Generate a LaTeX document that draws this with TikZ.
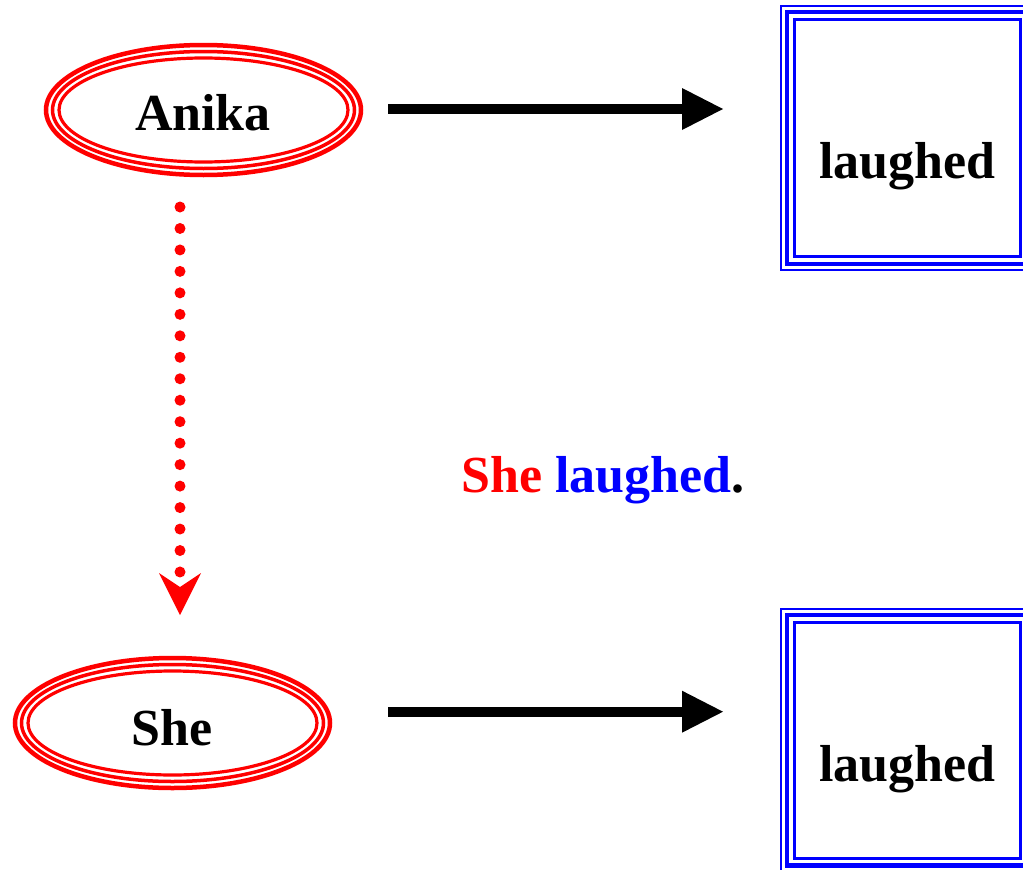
\documentclass[tikz,border=0pt]{standalone}
\usepackage{fontspec}
\setmainfont{Liberation Serif}
\usetikzlibrary{arrows.meta,shapes.geometric}
\begin{document}
\begin{tikzpicture}[x=1pt,y=-1pt,
  ring/.style={draw=red},
  frame/.style={draw=blue},
  lbl/.style={font=\fontsize{52}{60}\selectfont\bfseries, inner sep=0pt, anchor=base},
  ellnode/.style={ellipse, ring, line width=4.5pt, minimum width=315pt, minimum height=130pt, inner sep=0pt, outer sep=0pt},
  boxnode/.style={frame, line width=2.2pt, minimum width=252.5pt, inner sep=0pt, outer sep=0pt},
  bigarrow/.style={line width=10pt, -{Triangle[length=41pt,width=42pt,line width=0pt]}},
  dotarrow/.style={red, line width=11pt, line cap=round, dash pattern=on 0pt off 21.47pt,
    -{Stealth[length=42pt,width=42pt,inset=14pt,line width=0pt]}}]
\useasboundingbox (0,0) rectangle (1023,870);
\clip (0,0) rectangle (1023,870);

% ellipses
\node[ellnode] (anika) at (203.5,110) {};
\draw[ring, line width=3.5pt] (anika.center) ellipse [x radius=151pt, y radius=58.5pt];
\draw[ring, line width=3.2pt] (anika.center) ellipse [x radius=144.5pt, y radius=52pt];
\node[lbl] (anikaT) at (203,130) {Anika};

\node[ellnode] (she) at (172.5,723) {};
\draw[ring, line width=3.5pt] (she.center) ellipse [x radius=151pt, y radius=58.5pt];
\draw[ring, line width=3.2pt] (she.center) ellipse [x radius=144.5pt, y radius=52pt];
\node[lbl] (sheT) at (172,745) {She};

% boxes
\node[boxnode, minimum height=264pt] (box1) at (907.25,138) {};
\draw[frame, line width=4.5pt] ([shift={(6,6)}]box1.north west) rectangle ([shift={(-6,-6)}]box1.south east);
\draw[frame, line width=3pt] ([shift={(13.5,13.5)}]box1.north west) rectangle ([shift={(-13.5,-13.5)}]box1.south east);
\node[lbl] (box1T) at (907.5,178) {laughed};

\node[boxnode, minimum height=262.5pt] (box2) at (907.25,740.25) {};
\draw[frame, line width=4.5pt] ([shift={(6,6)}]box2.north west) rectangle ([shift={(-6,-6)}]box2.south east);
\draw[frame, line width=3pt] ([shift={(13.5,13.5)}]box2.north west) rectangle ([shift={(-13.5,-13.5)}]box2.south east);
\node[lbl] (box2T) at (907.5,781) {laughed};

% caption
\node[lbl, anchor=base west] (caption) at (461,492) {\textcolor{red}{She} \textcolor{blue}{laughed}.};

% connectors
\coordinate (a1s) at (388,109);
\coordinate (a1e) at (723,109);
\draw[bigarrow] (a1s) -- (a1e);
\coordinate (a2s) at (388,711.7);
\coordinate (a2e) at (723,711.7);
\draw[bigarrow] (a2s) -- (a2e);
\coordinate (ds) at (180,207);
\coordinate (de) at (180,615);
\draw[dotarrow] (ds) -- (de);
\end{tikzpicture}
\end{document}
